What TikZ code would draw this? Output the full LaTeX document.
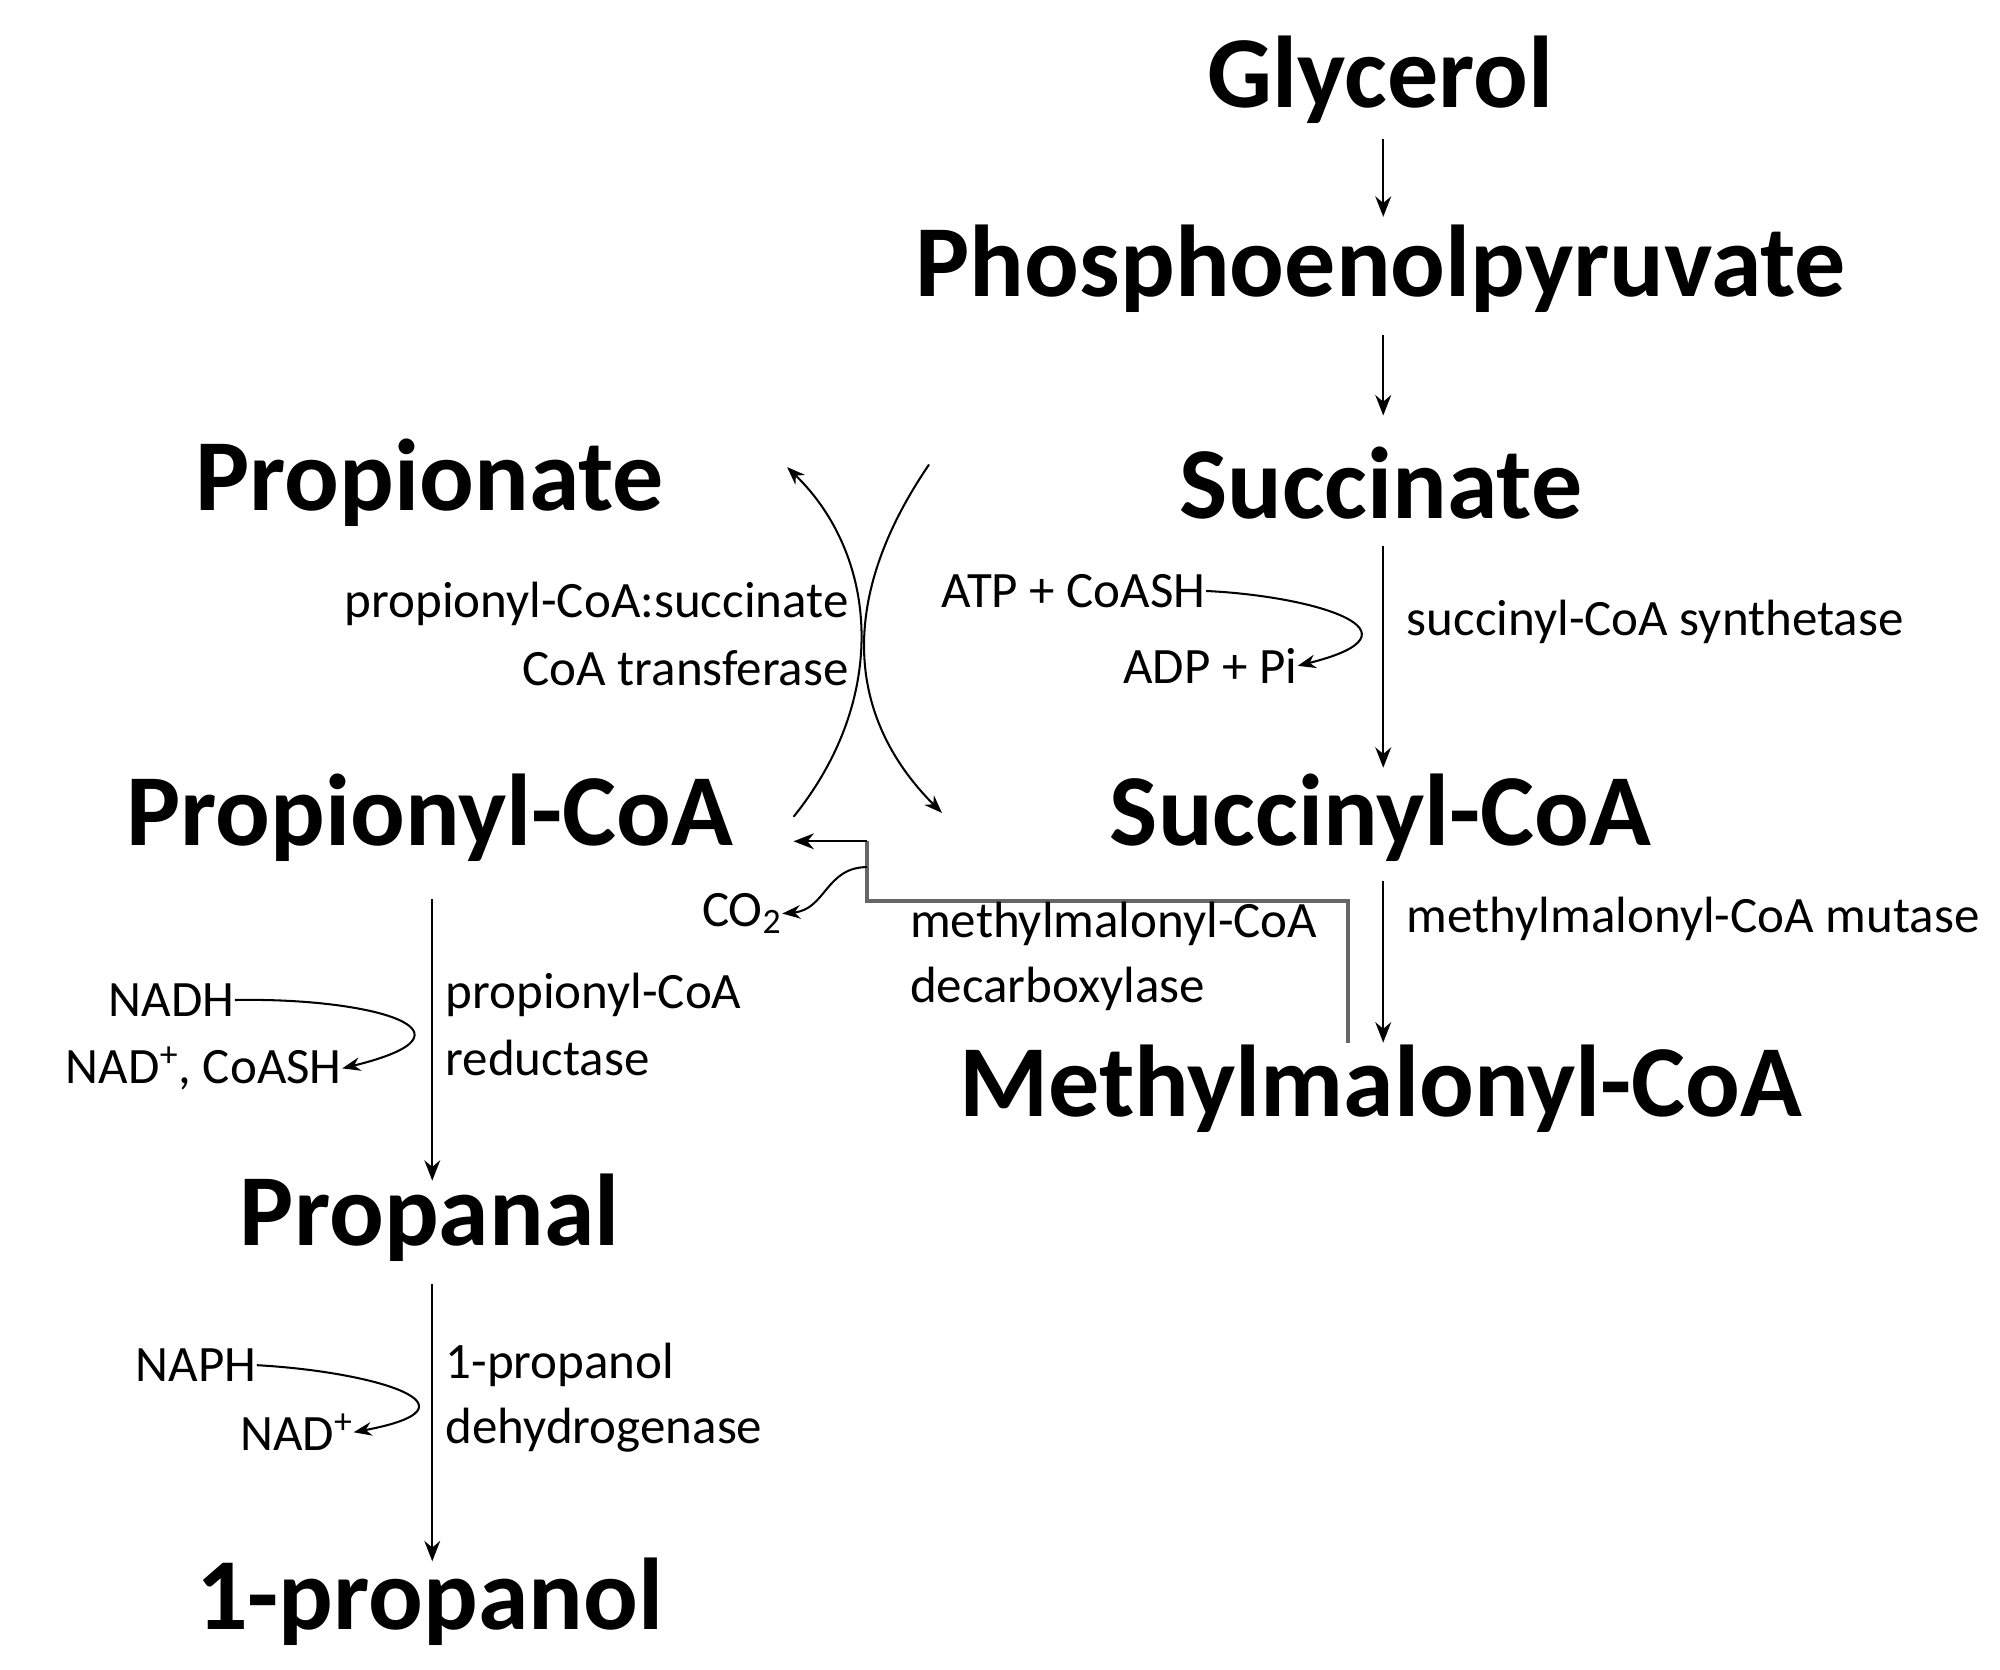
\documentclass[tikz,border=0pt]{standalone}
\usepackage{fontspec}
\setmainfont{Carlito}
\usetikzlibrary{arrows.meta}
\begin{document}
\begin{tikzpicture}[x=0.02cm,y=-0.02cm,
  met/.style={font=\fontsize{45}{50}\selectfont\bfseries,inner sep=0},
  lab/.style={font=\fontsize{22.5}{26}\selectfont,inner sep=0},
  arr/.style={-{Stealth[length=9pt,width=7pt]},line width=0.9pt},
  carr/.style={-{Stealth[length=8pt,width=6pt]},line width=0.9pt}]
\useasboundingbox (0,0) rectangle (1550,1294);
\node[met] (gly) at (1070,62) {Glycerol};
\node[met] (pep) at (1070,208) {Phosphoenolpyruvate};
\node[met] (suc) at (1070,374) {Succinate};
\node[met] (sco) at (1070,634) {Succinyl-CoA};
\node[met] (mmc) at (1070,844) {Methylmalonyl-CoA};
\node[met] (pro) at (333,374) {Propionate};
\node[met] (pco) at (333,634) {Propionyl-CoA};
\node[met] (pal) at (333,944) {Propanal};
\node[met] (pol) at (333,1241) {1-propanol};
% main arrows
\coordinate (a1) at (1072,108); \coordinate (b1) at (1072,168);
\coordinate (a2) at (1072,260); \coordinate (b2) at (1072,322);
\coordinate (a3) at (1072,423); \coordinate (b3) at (1072,595);
\coordinate (a4) at (1072,683); \coordinate (b4) at (1072,808);
\coordinate (a5) at (335,697); \coordinate (b5) at (335,915);
\coordinate (a6) at (335,995); \coordinate (b6) at (335,1210);
\draw[arr] (a1)--(b1); \draw[arr] (a2)--(b2); \draw[arr] (a3)--(b3);
\draw[arr] (a4)--(b4); \draw[arr] (a5)--(b5); \draw[arr] (a6)--(b6);
% crossing arcs
\coordinate (c1) at (615,633); \coordinate (d1) at (610,362);
\coordinate (c2) at (720,360); \coordinate (d2) at (730,630);
\draw[carr] (c1) .. controls (690,540) and (680,430) .. (d1);
\draw[carr] (c2) .. controls (645,470) and (660,560) .. (d2);
\node[lab,anchor=east] (t1) at (658,468) {propionyl-CoA:succinate};
\node[lab,anchor=east] (t2) at (658,518) {CoA transferase};
% succinyl-CoA synthetase
\node[lab] (atp) at (832,458) {ATP + CoASH};
\node[lab] (adp) at (938,516) {ADP + Pi};
\draw[carr] (atp.east) .. controls (1020,462) and (1110,490) .. (adp.east);
\node[lab,anchor=west] (e1) at (1090,482) {succinyl-CoA synthetase};
\node[lab,anchor=west] (e2) at (1090,712) {methylmalonyl-CoA mutase};
% decarboxylase
\coordinate (m1) at (1045,808); \coordinate (m2) at (1045,698);
\coordinate (m3) at (672,698); \coordinate (m4) at (672,652);
\coordinate (m5) at (615,652);
\draw[gray!80!black,line width=1.8pt] (m1)--(m2)--(m3)--(m4);
\draw[arr] (m4)--(m5);
\node[lab] (co2) at (575,708) {CO\textsubscript{2}};
\coordinate (m6) at (672,672);
\draw[carr] (m6) .. controls (640,672) and (640,705) .. (co2.east);
\node[lab,anchor=west] (e3) at (705,716) {methylmalonyl-CoA};
\node[lab,anchor=west] (e4) at (705,766) {decarboxylase};
% reductase
\node[lab] (nadh) at (133,775) {NADH};
\node[lab] (nad1) at (158,828) {NAD\textsuperscript{+}, CoASH};
\draw[carr] (nadh.east) .. controls (290,773) and (380,800) .. (nad1.east);
\node[lab,anchor=west] (e5) at (345,771) {propionyl-CoA};
\node[lab,anchor=west] (e6) at (345,820) {reductase};
% dehydrogenase
\node[lab] (naph) at (152,1058) {NAPH};
\node[lab] (nad2) at (230,1110) {NAD\textsuperscript{+}};
\draw[carr] (naph.east) .. controls (290,1063) and (380,1090) .. (nad2.east);
\node[lab,anchor=west] (e7) at (345,1058) {1-propanol};
\node[lab,anchor=west] (e8) at (345,1108) {dehydrogenase};
\end{tikzpicture}
\end{document}
